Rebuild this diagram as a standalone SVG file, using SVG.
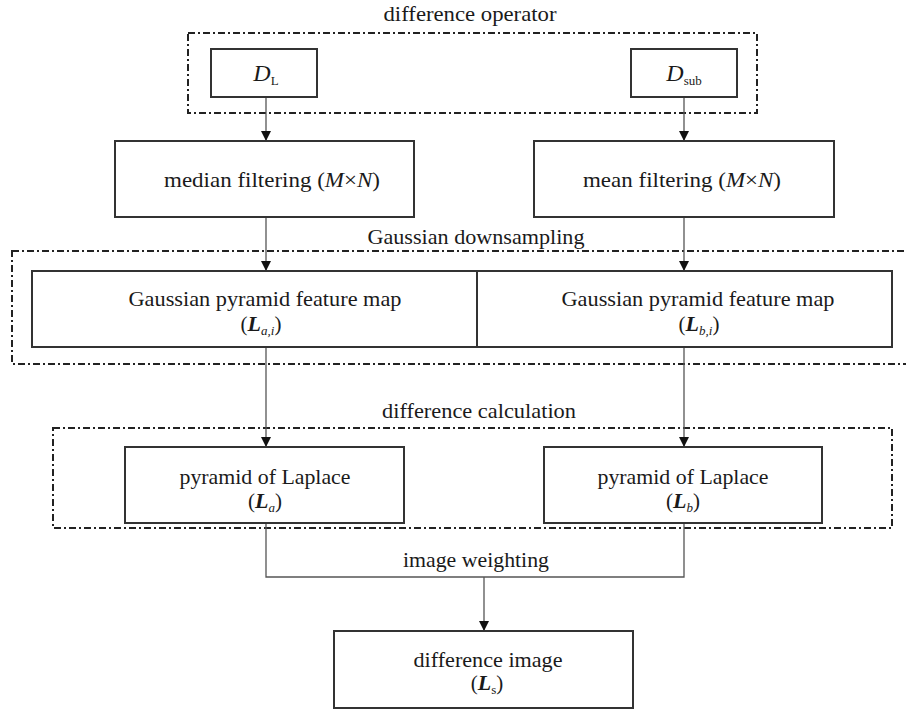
<svg xmlns="http://www.w3.org/2000/svg" width="906" height="712" viewBox="0 0 906 712">
<defs>
<style>
.t{font-family:"Liberation Serif","Times New Roman",serif;font-size:21px;fill:#1a1a1a}
.box{fill:#fff;stroke:#333;stroke-width:2}
.grp{fill:none;stroke:#222;stroke-width:2;stroke-dasharray:7 3 2 3}
.con{fill:none;stroke:#555;stroke-width:1.3}
.i{font-style:italic}
.bi{font-style:italic;font-weight:bold}
.sub{font-size:13px}
</style>
<marker id="arr" markerUnits="userSpaceOnUse" markerWidth="10" markerHeight="10" refX="10" refY="5" orient="auto">
<path d="M0,0 L10,5 L0,10 z" fill="#111"/>
</marker>
</defs>
<rect width="906" height="712" fill="#fff"/>

<g id="group-difference-operator">
<rect class="grp" x="188" y="33" width="569" height="80"/>
<text class="t" x="470" y="21" text-anchor="middle" textLength="173" lengthAdjust="spacingAndGlyphs">difference operator</text>
</g>
<g id="group-gaussian-downsampling">
<rect class="grp" x="12" y="251" width="910" height="113"/>
<text class="t" x="476" y="244" text-anchor="middle" textLength="217" lengthAdjust="spacingAndGlyphs">Gaussian downsampling</text>
</g>
<g id="group-difference-calculation">
<rect class="grp" x="53" y="428" width="839" height="100"/>
<text class="t" x="479" y="418" text-anchor="middle" textLength="194" lengthAdjust="spacingAndGlyphs">difference calculation</text>
</g>

<g id="connectors">
<path class="con" d="M266,97 V141" marker-end="url(#arr)"/>
<path class="con" d="M684,97 V141" marker-end="url(#arr)"/>
<path class="con" d="M266,217 V271" marker-end="url(#arr)"/>
<path class="con" d="M684,217 V271" marker-end="url(#arr)"/>
<path class="con" d="M266,347 V447" marker-end="url(#arr)"/>
<path class="con" d="M684,347 V447" marker-end="url(#arr)"/>
<path class="con" d="M266,523 V577 H684 V523"/>
<path class="con" d="M484,577 V631" marker-end="url(#arr)"/>
<text class="t" x="476" y="567" text-anchor="middle" textLength="146" lengthAdjust="spacingAndGlyphs">image weighting</text>
</g>

<g id="node-DL">
<rect class="box" x="211" y="49" width="106" height="48"/>
<text class="t" x="266" y="81" text-anchor="middle"><tspan class="i" font-size="24">D</tspan><tspan class="sub" dy="4">L</tspan></text>
</g>
<g id="node-Dsub">
<rect class="box" x="631" y="49" width="106" height="48"/>
<text class="t" x="684" y="81" text-anchor="middle"><tspan class="i" font-size="24">D</tspan><tspan class="sub" dy="4">sub</tspan></text>
</g>

<g id="node-median">
<rect class="box" x="115" y="141" width="299" height="76"/>
<text class="t" x="272" y="187" text-anchor="middle" textLength="216" lengthAdjust="spacingAndGlyphs">median filtering (<tspan class="i">M</tspan>×<tspan class="i">N</tspan>)</text>
</g>
<g id="node-mean">
<rect class="box" x="534" y="141" width="300" height="76"/>
<text class="t" x="682" y="187" text-anchor="middle" textLength="198" lengthAdjust="spacingAndGlyphs">mean filtering (<tspan class="i">M</tspan>×<tspan class="i">N</tspan>)</text>
</g>

<g id="node-gauss-a">
<rect class="box" x="32" y="271" width="445" height="76"/>
<text class="t" x="265" y="306" text-anchor="middle" textLength="273" lengthAdjust="spacingAndGlyphs">Gaussian pyramid feature map</text>
<text class="t" x="261" y="331" text-anchor="middle">(<tspan class="bi" font-size="22">L</tspan><tspan class="i sub" dy="4">a,i</tspan><tspan dy="-4">)</tspan></text>
</g>
<g id="node-gauss-b">
<rect class="box" x="477" y="271" width="415" height="76"/>
<text class="t" x="698" y="306" text-anchor="middle" textLength="273" lengthAdjust="spacingAndGlyphs">Gaussian pyramid feature map</text>
<text class="t" x="699" y="331" text-anchor="middle">(<tspan class="bi" font-size="22">L</tspan><tspan class="i sub" dy="4">b,i</tspan><tspan dy="-4">)</tspan></text>
</g>

<g id="node-laplace-a">
<rect class="box" x="125" y="447" width="279" height="76"/>
<text class="t" x="265" y="484" text-anchor="middle" textLength="171" lengthAdjust="spacingAndGlyphs">pyramid of Laplace</text>
<text class="t" x="265" y="508" text-anchor="middle">(<tspan class="bi" font-size="22">L</tspan><tspan class="i sub" dy="4">a</tspan><tspan dy="-4">)</tspan></text>
</g>
<g id="node-laplace-b">
<rect class="box" x="544" y="447" width="278" height="76"/>
<text class="t" x="683" y="484" text-anchor="middle" textLength="171" lengthAdjust="spacingAndGlyphs">pyramid of Laplace</text>
<text class="t" x="683" y="508" text-anchor="middle">(<tspan class="bi" font-size="22">L</tspan><tspan class="i sub" dy="4">b</tspan><tspan dy="-4">)</tspan></text>
</g>

<g id="node-diff-image">
<rect class="box" x="334" y="631" width="299" height="77"/>
<text class="t" x="488" y="667" text-anchor="middle" textLength="149" lengthAdjust="spacingAndGlyphs">difference image</text>
<text class="t" x="487" y="690" text-anchor="middle">(<tspan class="bi" font-size="22">L</tspan><tspan class="sub" dy="4">s</tspan><tspan dy="-4">)</tspan></text>
</g>
</svg>
